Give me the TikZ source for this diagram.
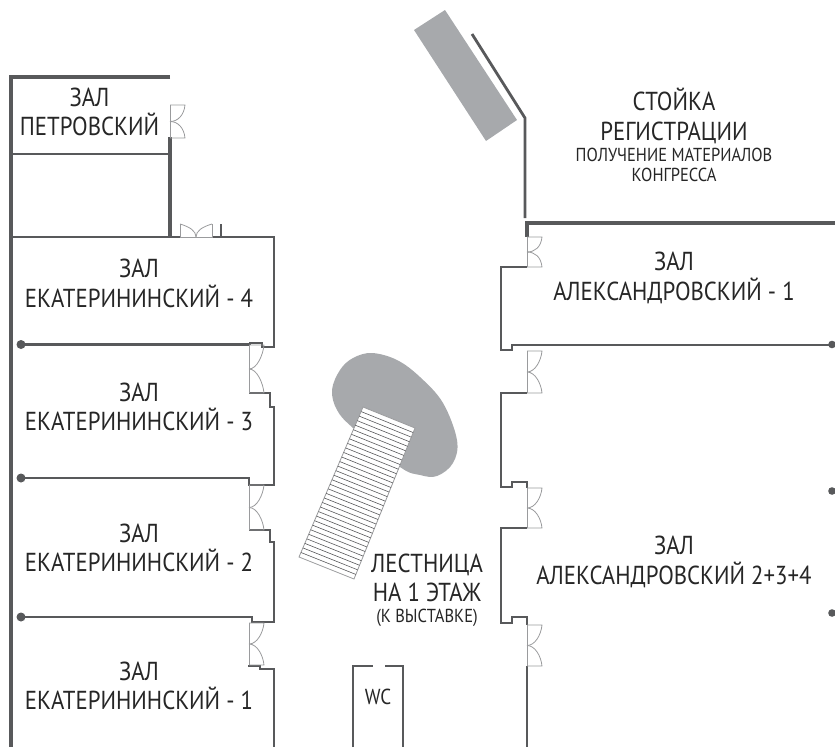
\documentclass[tikz,border=0pt]{standalone}
\usepackage{fontspec}
\setmainfont[FakeStretch=0.877]{PT Sans}
\usetikzlibrary{calc}
\definecolor{wallgray}{HTML}{58595B}
\definecolor{fillgray}{HTML}{A7A9AC}
\definecolor{doorgray}{HTML}{9A9B9D}
\tikzset{
    wall/.style={draw=wallgray,line width=2.2pt,line join=miter},
    heavywall/.style={draw=wallgray,line width=3.6pt},
    doorleaf/.style={draw=doorgray,line width=0.8pt},
    column/.style={fill=wallgray,draw=none},
    roomlabel/.style={align=center,text=black!85,font=\fontsize{26}{29.5}\selectfont},
    smalllabel/.style={align=center,text=black!85,font=\fontsize{18.8}{20}\selectfont},
}
\begin{document}
\begin{tikzpicture}[x=1pt,y=-1pt]
                \useasboundingbox (0,0) rectangle (835,747);
                % outer walls, upper left
                \draw[heavywall] (170,77) -- (11,77) -- (11,747);
                \draw[wall] (11,154) -- (170,154);
                \draw[heavywall] (170,137) -- (170,237);
                % hall 4 and the halls below it
                \draw[wall] (11,237) -- (180,237);
                \draw[wall] (212,237) -- (274,237) -- (274,347) -- (262,347) -- (262,343) -- (250,343) -- (250,345);
                \draw[wall] (221,224) -- (221,237);
                \draw[wall] (21,344.5) -- (250,344.5);
                \draw[wall] (249,393) -- (270,393) -- (270,407) -- (274,407) -- (274,485) -- (249,485) -- (249,478) -- (21,478);
                \draw[wall] (249,530) -- (270,530) -- (270,542) -- (274,542) -- (274,622) -- (252,622) -- (252,617) -- (21,617);
                \draw[wall] (248,666) -- (260,666) -- (260,669) -- (274,669) -- (274,747);
                \foreach \colpos in {344.5,478,617}
                    \fill[column] (21,\colpos) circle [radius=4.5];
                % right side
                \draw[heavywall,line width=2.8pt] (472,34) -- (525,118) -- (525,218);
                \draw[heavywall] (835,223) -- (527,223) -- (527,237);
                \draw[wall] (527,267) -- (501,267) -- (501,350) -- (512,350) -- (512,345) -- (527,345) -- (835,345);
                \draw[wall] (527,393) -- (501,393) -- (501,487) -- (512,487) -- (512,482) -- (527,482) -- (527,488);
                \draw[wall] (527,528) -- (501,528) -- (501,623) -- (512,623) -- (512,617) -- (527,617) -- (527,625);
                \draw[wall] (527,666) -- (527,747);
                \foreach \colpos in {344.5,491,613}
                    \fill[column] (832,\colpos) circle [radius=3.8];
                % doors
                \foreach \xpos/\ytop/\ybot in {170/105/138,249/345/393,249/485/530,249/623/665,527/237/267,527/351/393,527/488/528,527/625/666} {
                    \pgfmathsetmacro{\ymid}{(\ytop+\ybot)/2}
                    \draw[doorleaf] (\xpos,\ytop) -- ({\xpos+15},\ytop) .. controls ({\xpos+14},{\ytop+10}) and ({\xpos+8},\ymid) .. (\xpos,\ymid);
                    \draw[doorleaf] (\xpos,\ybot) -- ({\xpos+15},\ybot) .. controls ({\xpos+14},{\ybot-10}) and ({\xpos+8},\ymid) .. (\xpos,\ymid);
                    \draw[doorleaf] (\xpos,\ytop) -- (\xpos,\ybot);
                }
                \draw[doorleaf] (180,224) -- (180,237) -- (212,237) -- (212,224);
                \draw[doorleaf] (180,224) .. controls (190,227) and (196,231) .. (196,237);
                \draw[doorleaf] (212,224) .. controls (202,227) and (196,231) .. (196,237);
                % registration desk and stairs
                \fill[fillgray] (445,10) -- (517,120) -- (486,141) -- (414,30) -- cycle;
                \fill[fillgray] plot[smooth cycle,tension=0.6] coordinates {(332,390) (340,370) (353,358) (372,353) (397,360) (420,377) (443,403) (457,440) (453,463) (437,476) (420,475) (400,467) (353,428) (337,410)};
                \coordinate (stairA) at (363,407);
                \coordinate (stairB) at (415,428);
                \coordinate (stairC) at (354,579);
                \coordinate (stairD) at (299,557);
                \draw[doorleaf,fill=white] (stairA) -- (stairB) -- (stairC) -- (stairD) -- cycle;
                \foreach \stairstep in {1,...,32}
                    \draw[wallgray,line width=0.6pt] ($(stairA)!\stairstep/33!(stairD)$) -- ($(stairB)!\stairstep/33!(stairC)$);
                % wc
                \draw[wall] (353,747) -- (353,666) -- (373,666);
                \draw[wall] (385,666) -- (403,666) -- (403,747);
                % labels
                \node[roomlabel] (petrovsky) at (89.5,112) {ЗАЛ\\ПЕТРОВСКИЙ};
                \node[roomlabel] (ekat4) at (139,283.5) {ЗАЛ\\ЕКАТЕРИНИНСКИЙ - 4};
                \node[roomlabel] (ekat3) at (139,407) {ЗАЛ\\ЕКАТЕРИНИНСКИЙ - 3};
                \node[roomlabel] (ekat2) at (139,548) {ЗАЛ\\ЕКАТЕРИНИНСКИЙ - 2};
                \node[roomlabel] (ekat1) at (139,686) {ЗАЛ\\ЕКАТЕРИНИНСКИЙ - 1};
                \node[roomlabel] (desk) at (674,116) {СТОЙКА\\РЕГИСТРАЦИИ};
                \node[smalllabel] (deskinfo) at (674,165) {ПОЛУЧЕНИЕ МАТЕРИАЛОВ\\КОНГРЕССА};
                \node[roomlabel] (alex1) at (674,278) {ЗАЛ\\АЛЕКСАНДРОВСКИЙ - 1};
                \node[roomlabel] (alex234) at (674,562) {ЗАЛ\\АЛЕКСАНДРОВСКИЙ 2+3+4};
                \node[roomlabel] (stairs) at (427,578) {ЛЕСТНИЦА\\НА 1 ЭТАЖ};
                \node[smalllabel] (stairsinfo) at (427,618) {(К ВЫСТАВКЕ)};
                \node[roomlabel,font=\fontsize{21.7}{24}\selectfont] (wc) at (378,697) {WC};
            \end{tikzpicture}
\end{document}
